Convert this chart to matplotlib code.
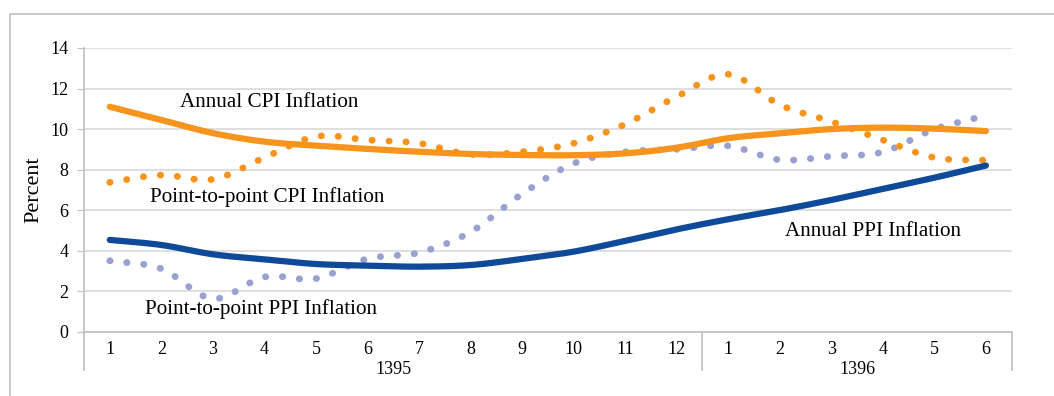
import numpy as np
import matplotlib
matplotlib.use("Agg")
import matplotlib.pyplot as plt
from matplotlib.patches import Rectangle
import matplotlib.transforms as mtransforms

# months of 1395 and 1396
months = [str(m) for m in range(1, 13)] + [str(m) for m in range(1, 7)]
years = ["1395", "1396"]
year_len = [12, 6]

annual_cpi = [11.1, 10.45, 9.8, 9.38, 9.18, 9.02, 8.88, 8.77, 8.72, 8.71, 8.8, 9.08,
              9.55, 9.79, 10.0, 10.07, 10.02, 9.9]
p2p_cpi = [7.37, 7.73, 7.52, 8.59, 9.63, 9.46, 9.3, 8.75, 8.88, 9.3, 10.24, 11.6,
           12.7, 11.2, 10.37, 9.46, 8.59, 8.46]
annual_ppi = [4.53, 4.28, 3.82, 3.57, 3.34, 3.26, 3.21, 3.29, 3.59, 3.95, 4.48, 5.05,
              5.55, 6.0, 6.5, 7.05, 7.6, 8.2]
p2p_ppi = [3.5, 3.11, 1.63, 2.7, 2.62, 3.6, 3.9, 4.92, 6.8, 8.3, 8.87, 9.0,
           9.17, 8.48, 8.66, 8.87, 9.99, 10.66]

ORANGE = "#F7941D"
BLUE = "#0E4A99"
PURPLE = "#98A1CF"
GRID = "#D9D9D9"
AXIS = "#BFBFBF"


def smooth(y, n=24):
    # Catmull-Rom curve through the points, like Excel's smoothed line
    x = np.arange(len(y), dtype=float)
    y = np.asarray(y, dtype=float)
    px = np.concatenate([[2 * x[0] - x[1]], x, [2 * x[-1] - x[-2]]])
    py = np.concatenate([[2 * y[0] - y[1]], y, [2 * y[-1] - y[-2]]])
    xs, ys = [], []
    t = np.linspace(0, 1, n)
    for i in range(1, len(px) - 2):
        for p, out in ((px, xs), (py, ys)):
            p0, p1, p2, p3 = p[i - 1], p[i], p[i + 1], p[i + 2]
            out.append(0.5 * (2 * p1 + (-p0 + p2) * t
                              + (2 * p0 - 5 * p1 + 4 * p2 - p3) * t ** 2
                              + (-p0 + 3 * p1 - 3 * p2 + p3) * t ** 3))
    return np.concatenate(xs), np.concatenate(ys)


plt.rcParams["font.family"] = ["Liberation Serif", "DejaVu Serif"]

fig = plt.figure(figsize=(10.54, 3.96), dpi=100)
fig.patches.append(Rectangle((10 / 1054, -0.1), 1.2, 1 - 14 / 396 + 0.1,
                             transform=fig.transFigure, fill=False,
                             edgecolor=AXIS, linewidth=1.2))
ax = fig.add_axes([84 / 1054, 1 - 331.7 / 396, (1011.7 - 84) / 1054, (331.7 - 48) / 396])

n = len(months)
dot = dict(linestyle=(0, (0.05, 2.45)), dash_capstyle="round", linewidth=4.9)
ax.plot(*smooth(p2p_ppi), color=PURPLE, **dot)
ax.plot(*smooth(p2p_cpi), color=ORANGE, **dot)
ax.plot(*smooth(annual_ppi), color=BLUE, linewidth=4.5, solid_capstyle="round")
ax.plot(*smooth(annual_cpi), color=ORANGE, linewidth=4.5, solid_capstyle="round")

ax.set_xlim(-0.5, n - 0.5)
ax.set_ylim(0, 14)
ax.set_yticks(range(0, 15, 2))
ax.yaxis.grid(True, color=GRID, linewidth=1.2)
ax.set_axisbelow(True)
for s in ["top", "right"]:
    ax.spines[s].set_visible(False)
for s in ["left", "bottom"]:
    ax.spines[s].set_color(AXIS)
    ax.spines[s].set_linewidth(1.2)
ax.tick_params(axis="y", length=5, color=AXIS, labelsize=13, pad=6)
ax.set_xticks(range(n))
ax.set_xticklabels(months)
ax.tick_params(axis="x", length=0, labelsize=13, pad=7)
ax.set_ylabel("Percent", fontsize=16, labelpad=5)

# category group separators and year labels below the axis
trans = mtransforms.blended_transform_factory(ax.transData, ax.transAxes)
start = 0
edges = [-0.5]
for yr, ln in zip(years, year_len):
    ax.text(start + (ln - 1) / 2, -0.135, yr, transform=trans, ha="center",
            va="center", fontsize=13)
    start += ln
    edges.append(start - 0.5)
for e in edges:
    ax.plot([e, e], [0, -0.135], transform=trans, color=AXIS, linewidth=1.2,
            clip_on=False)

ax.text(1.36, 11.29, "Annual CPI Inflation", fontsize=15.2, va="center")
ax.text(0.78, 6.65, "Point-to-point CPI Inflation", fontsize=15.2, va="center")
ax.text(0.68, 1.11, "Point-to-point PPI Inflation", fontsize=15.2, va="center")
ax.text(13.11, 4.94, "Annual PPI Inflation", fontsize=15.2, va="center")

fig.savefig("out.png", dpi=100)
